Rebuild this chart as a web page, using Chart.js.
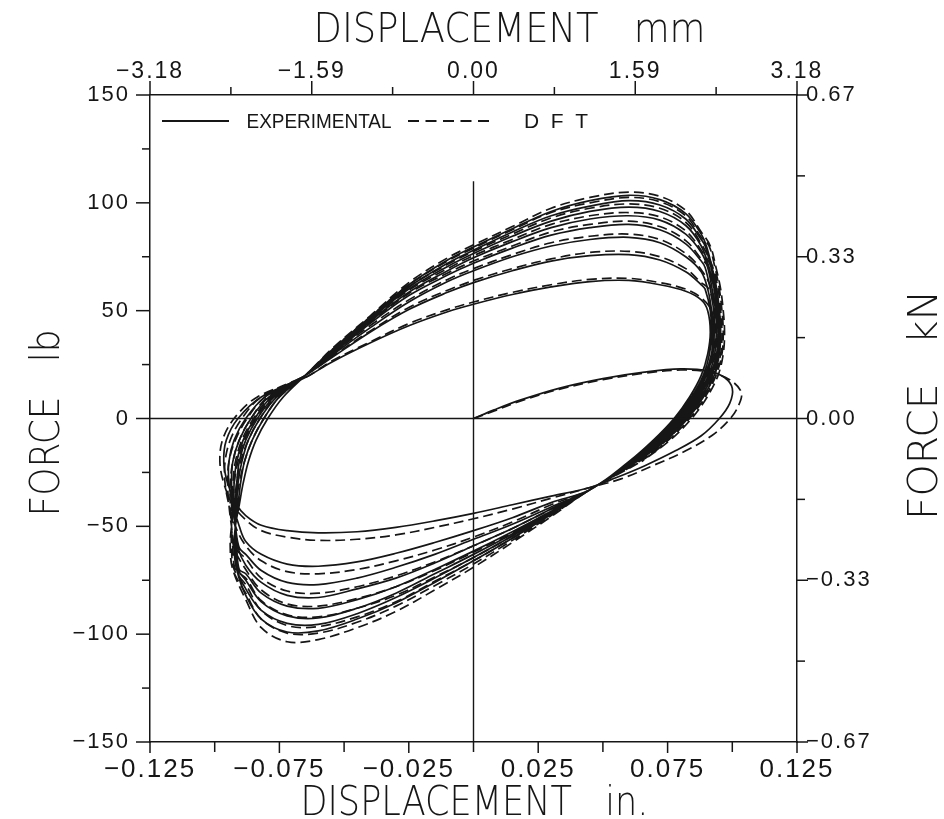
<!DOCTYPE html>
<html>
<head>
<meta charset="utf-8">
<script src="https://cdn.jsdelivr.net/npm/chart.js@4.4.1/dist/chart.umd.min.js"></script>
<style>
  html, body { margin: 0; padding: 0; background: #fff; }
  #wrap { width: 944px; height: 819px; }
</style>
</head>
<body>
<div id="wrap"><canvas id="loops" width="944" height="819"></canvas></div>
<script>
// axis ticks and labels
const inchTicks = [-0.125, -0.1, -0.075, -0.05, -0.025, 0, 0.025, 0.05, 0.075, 0.1, 0.125];
const inchLabels = ['\u22120.125', '', '\u22120.075', '', '\u22120.025', '', '0.025', '', '0.075', '', '0.125'];
const mmTicks = [-3.175, -2.38125, -1.5875, -0.79375, 0, 0.79375, 1.5875, 2.38125, 3.175];
const mmLabels = ['\u22123.18', '', '\u22121.59', '', '0.00', '', '1.59', '', '3.18'];
const lbTicks = [-150, -125, -100, -75, -50, -25, 0, 25, 50, 75, 100, 125, 150];
const lbLabels = ['\u2212150', '', '\u2212100', '', '\u221250', '', '0', '', '50', '', '100', '', '150'];
const kNTicks = [-0.6672, -0.5004, -0.3336, -0.1668, 0, 0.1668, 0.3336, 0.5004, 0.6672];
const kNLabels = ['\u22120.67', '', '\u22120.33', '', '0.00', '', '0.33', '', '0.67'];
const axisTitles = { x: 'DISPLACEMENT   in.', x2: 'DISPLACEMENT   mm', y: 'FORCE   lb', y2: 'FORCE   kN' };
const legendLabels = ['EXPERIMENTAL', 'D  F  T'];

// first loading from rest, [in, lb]
const expInitial = [[0, 0], [0.008, 4], [0.018, 8.5], [0.033, 14], [0.05, 18.5], [0.066, 21.5], [0.08, 23], [0.091, 22],
  [0.097, 19], [0.1, 14], [0.099, 7], [0.095, 0], [0.088, -8], [0.078, -15], [0.066, -22], [0.055, -27.5]];
const dftInitial = [[0, 0], [0.008, 3.5], [0.018, 8], [0.033, 13.5], [0.05, 18], [0.066, 21], [0.08, 22.5], [0.091, 21.5],
  [0.099, 18], [0.1035, 12], [0.102, 5], [0.0985, -1], [0.092, -8], [0.082, -15], [0.07, -21.5], [0.057, -28]];

// upper branches (loading to the right), force at upperX
const upperX = [-0.065, -0.055, -0.04, -0.025, -0.01, 0, 0.015, 0.03, 0.045, 0.06, 0.072, 0.082, 0.088];
const expUpperF = [
  [19, 26, 35, 43, 49.5, 53, 57.5, 61, 63.5, 64, 62, 59, 55],
  [20, 28, 40, 50.5, 58.5, 63, 68.5, 73, 75.5, 76, 73.5, 68, 62],
  [20, 29, 42, 54, 63.5, 68.5, 75, 80, 83, 84, 81.5, 75, 68],
  [20, 29.5, 44, 57, 66.5, 72, 79, 85, 88.5, 90, 87.5, 81, 73],
  [20, 30, 45, 58.5, 68.5, 74.5, 82, 88.5, 92.5, 94, 92, 85.5, 77],
  [20, 30.5, 46, 60, 70.5, 76.5, 84.5, 91.5, 96, 98, 96, 89.5, 80],
  [20, 31, 46.5, 61, 72, 78, 86.5, 94, 98.5, 101, 99, 92.5, 83],
  [20, 31.5, 47, 62, 73.5, 79.5, 88, 96, 101, 103.5, 101.5, 95, 85.5]
];
const dftUpperF = [
  [19, 26.5, 35.5, 44, 50.5, 54, 58.5, 62, 64.5, 65, 63, 60, 56],
  [20, 28.5, 40.5, 51.5, 59.5, 64, 69.5, 74, 77, 77.5, 75, 69.5, 63],
  [20, 29.5, 43, 55, 64.5, 69.5, 76, 81.5, 84.5, 85.5, 83, 76.5, 69],
  [20, 30, 44.5, 58, 67.5, 73, 80, 86.5, 90, 91.5, 89, 82.5, 74],
  [20, 30.5, 45.5, 59.5, 69.5, 75.5, 83, 90, 94, 95.5, 93.5, 87, 78],
  [20, 31, 46.5, 61, 71.5, 77.5, 85.5, 93, 97.5, 99.5, 97.5, 91, 81],
  [20, 31.5, 47, 62, 73, 79, 87.5, 95.5, 100, 102.5, 100.5, 94, 84],
  [20, 32, 47.5, 63, 74.5, 80.5, 89, 97.5, 102.5, 105, 103, 96.5, 86.5]
];

// lower branches (unloading to the left), force at lowerX
const lowerX = [0.045, 0.03, 0.015, 0, -0.015, -0.03, -0.045, -0.06, -0.072, -0.082, -0.088];
const expLowerF = [
  [-32, -36, -40, -44, -47.5, -50.5, -52.5, -53, -52, -49.5, -45],
  [-33, -39, -46, -52, -57.5, -62.5, -66.5, -68.5, -67.5, -63, -57],
  [-33, -41, -49, -56, -63, -69, -74, -77, -76, -70.5, -63],
  [-33, -42, -51, -59, -67, -74, -79, -83, -82, -76, -68],
  [-33, -43, -52.5, -61.5, -70, -78, -84, -88, -87, -81, -72],
  [-33, -43.5, -53.5, -63, -72, -81, -88, -92.5, -91.5, -85, -75],
  [-33, -44, -54.5, -64.5, -74, -83, -90.5, -95.5, -95, -89, -79],
  [-33, -44.5, -55.5, -66, -76, -85.5, -93, -98.5, -99, -93, -82]
];
const dftLowerF = [
  [-32, -37, -42, -46.5, -50.5, -54, -56, -56.5, -55, -52, -47],
  [-33, -40, -48, -55, -61, -66, -70, -72, -71, -66, -59],
  [-33, -42, -51, -59, -66.5, -73, -78, -81, -80, -74, -65],
  [-33, -43, -53, -62, -70.5, -78, -83.5, -87, -86, -79.5, -70],
  [-33, -44, -54.5, -64.5, -73.5, -82, -88, -92, -91, -84.5, -74],
  [-33, -44.5, -55.5, -66, -75.5, -85, -92, -96.5, -96, -89, -77],
  [-33, -45, -56.5, -67.5, -77.5, -87, -94.5, -99.5, -99.5, -93, -81],
  [-33, -45.5, -57.5, -69, -79.5, -89.5, -97, -102.5, -103.5, -97, -84]
];

// left reversal (force rising), displacement at leftLevels
const leftLevels = [-70, -60, -50, -40, -30, -20, -10, 0, 10];
const expLeftX = [
  [null, null, null, -0.0915, -0.095, -0.0965, -0.0955, -0.091, -0.082],
  [null, null, -0.0905, -0.093, -0.0945, -0.0945, -0.0925, -0.088, -0.0805],
  [null, -0.0905, -0.092, -0.093, -0.0935, -0.093, -0.0905, -0.086, -0.079],
  [null, -0.091, -0.092, -0.0925, -0.0925, -0.0915, -0.089, -0.0845, -0.078],
  [-0.0905, -0.0915, -0.092, -0.092, -0.0915, -0.0905, -0.088, -0.0835, -0.077],
  [-0.091, -0.092, -0.092, -0.0915, -0.091, -0.0895, -0.087, -0.0825, -0.076],
  [-0.0915, -0.0925, -0.092, -0.091, -0.09, -0.0885, -0.0855, -0.081, -0.075],
  [-0.0915, -0.0925, -0.092, -0.0905, -0.089, -0.087, -0.084, -0.0795, -0.0735]
];
const dftLeftX = [
  [null, null, null, -0.093, -0.0965, -0.098, -0.097, -0.0925, -0.0835],
  [null, null, -0.092, -0.0945, -0.096, -0.096, -0.094, -0.0895, -0.082],
  [null, -0.092, -0.0935, -0.0945, -0.095, -0.0945, -0.092, -0.0875, -0.0805],
  [null, -0.0925, -0.0935, -0.094, -0.094, -0.093, -0.0905, -0.086, -0.0795],
  [-0.092, -0.093, -0.0935, -0.0935, -0.093, -0.092, -0.0895, -0.085, -0.0785],
  [-0.0925, -0.0935, -0.0935, -0.093, -0.0925, -0.091, -0.0885, -0.084, -0.0775],
  [-0.093, -0.094, -0.0935, -0.0925, -0.0915, -0.09, -0.087, -0.0825, -0.0765],
  [-0.093, -0.094, -0.0935, -0.092, -0.0905, -0.0885, -0.0855, -0.081, -0.075]
];

// right reversal (force falling), displacement at rightLevels
const rightLevels = [80, 70, 60, 50, 40, 30, 20, 10, 0, -10, -20];
const expRightX = [
  [null, null, null, 0.0905, 0.0915, 0.0905, 0.088, 0.0835, 0.0775, 0.0695, 0.06],
  [null, null, 0.0895, 0.0915, 0.092, 0.0912, 0.0888, 0.0843, 0.0782, 0.0702, 0.0605],
  [null, null, 0.0905, 0.092, 0.0925, 0.092, 0.0895, 0.085, 0.079, 0.071, 0.061],
  [null, 0.0895, 0.0915, 0.0928, 0.093, 0.0925, 0.09, 0.0858, 0.0798, 0.0718, 0.0615],
  [null, 0.0905, 0.0922, 0.0935, 0.0938, 0.0932, 0.0908, 0.0865, 0.0805, 0.0725, 0.062],
  [null, 0.091, 0.093, 0.094, 0.0945, 0.094, 0.0915, 0.0872, 0.0812, 0.073, 0.0625],
  [0.0895, 0.0918, 0.0935, 0.0945, 0.095, 0.0945, 0.0922, 0.088, 0.082, 0.0738, 0.063],
  [0.09, 0.0922, 0.094, 0.095, 0.0955, 0.095, 0.093, 0.0888, 0.0828, 0.0745, 0.0635]
];
const dftRightX = [
  [null, null, null, 0.092, 0.093, 0.092, 0.0895, 0.085, 0.079, 0.071, 0.0615],
  [null, null, 0.091, 0.093, 0.0935, 0.0927, 0.0903, 0.0858, 0.0797, 0.0717, 0.062],
  [null, null, 0.092, 0.0935, 0.094, 0.0935, 0.091, 0.0865, 0.0805, 0.0725, 0.0625],
  [null, 0.091, 0.093, 0.0943, 0.0945, 0.094, 0.0915, 0.0873, 0.0813, 0.0733, 0.063],
  [null, 0.092, 0.0937, 0.095, 0.0953, 0.0947, 0.0923, 0.088, 0.082, 0.074, 0.0635],
  [null, 0.0925, 0.0945, 0.0955, 0.096, 0.0955, 0.093, 0.0887, 0.0827, 0.0745, 0.064],
  [0.091, 0.0933, 0.095, 0.096, 0.0965, 0.096, 0.0937, 0.0895, 0.0835, 0.0753, 0.0645],
  [0.0915, 0.0937, 0.0955, 0.0965, 0.097, 0.0965, 0.0945, 0.0903, 0.0843, 0.076, 0.065]
];

// reference lines through the origin
const zeroVertical = [[0, -150], [0, 110]];
const zeroHorizontal = [[-0.125, 0], [0.125, 0]];

const ink = '#161616';
const plainFont = "'Liberation Sans', Arial, sans-serif";
const thinFont = "'DejaVu Sans ExtraLight', 'DejaVu Sans', sans-serif";

function buildPath(initial, upperF, lowerF, leftX, rightX) {
  const pts = initial.map(p => ({ x: p[0], y: p[1] }));
  for (let c = 0; c < upperF.length; c++) {
    lowerX.forEach((x, i) => pts.push({ x: x, y: lowerF[c][i] }));
    leftLevels.forEach((f, i) => { if (leftX[c][i] !== null) pts.push({ x: leftX[c][i], y: f }); });
    upperX.forEach((x, i) => pts.push({ x: x, y: upperF[c][i] }));
    rightLevels.forEach((f, i) => { if (rightX[c][i] !== null) pts.push({ x: rightX[c][i], y: f }); });
  }
  return pts;
}
const toPts = arr => arr.map(p => ({ x: p[0], y: p[1] }));

function fixedTicks(values) {
  return scale => { scale.ticks = values.map(v => ({ value: v })); };
}
function labelsFrom(labels) {
  return (value, index) => labels[index] || '';
}

// tick mark lengths [labelled, unlabelled]
const tickLen = { x: [11, 10], x2: [14, 8], y: [14, 8], y2: [11, 8] };

// plotter-style lettering: spaced tick labels
const spacing = {
  id: 'spacing',
  beforeDraw(chart) { chart.ctx.letterSpacing = '2px'; }
};

const tickMarks = {
  id: 'tickMarks',
  afterDraw(chart) {
    const ctx = chart.ctx;
    ctx.save();
    ctx.strokeStyle = ink;
    ctx.lineWidth = 1.5;
    Object.values(chart.scales).forEach(scale => {
      const len = tickLen[scale.id];
      scale.ticks.forEach(t => {
        const L = t.label ? len[0] : len[1];
        const p = scale.getPixelForValue(t.value);
        ctx.beginPath();
        if (scale.position === 'left') { ctx.moveTo(scale.right, p); ctx.lineTo(scale.right - L, p); }
        else if (scale.position === 'right') { ctx.moveTo(scale.left, p); ctx.lineTo(scale.left + L, p); }
        else if (scale.position === 'top') { ctx.moveTo(p, scale.bottom); ctx.lineTo(p, scale.bottom - L); }
        else { ctx.moveTo(p, scale.top); ctx.lineTo(p, scale.top + L); }
        ctx.stroke();
      });
    });
    ctx.restore();
  }
};

// text squeezed to a given width, like the narrow plotter lettering
function fittedText(ctx, text, x, y, width, font, rotate) {
  ctx.save();
  ctx.font = font;
  ctx.letterSpacing = '0px';
  const w = ctx.measureText(text).width;
  ctx.translate(x, y);
  if (rotate) ctx.rotate(-Math.PI / 2);
  ctx.scale(width / w, 1);
  ctx.textAlign = 'center';
  ctx.textBaseline = 'alphabetic';
  ctx.fillStyle = ink;
  ctx.fillText(text, 0, 0);
  ctx.restore();
}

const titlesAndLegend = {
  id: 'titlesAndLegend',
  afterDraw(chart) {
    const ctx = chart.ctx;
    const a = chart.chartArea;
    const big = '200 40px ' + thinFont;
    fittedText(ctx, axisTitles.x2, (a.left + a.right) / 2 + 36, 42, 392, big, false);
    fittedText(ctx, axisTitles.x, (a.left + a.right) / 2 + 1, 815, 348, big, false);
    fittedText(ctx, axisTitles.y, 59, 423, 187, big, true);
    fittedText(ctx, axisTitles.y2, 937, 405, 230, big, true);

    const y = a.top + 26;
    ctx.save();
    ctx.strokeStyle = ink;
    ctx.lineWidth = 1.8;
    ctx.beginPath(); ctx.moveTo(a.left + 12, y); ctx.lineTo(a.left + 79, y); ctx.stroke();
    ctx.setLineDash([11, 6.5]);
    ctx.beginPath(); ctx.moveTo(a.left + 258, y); ctx.lineTo(a.left + 342, y); ctx.stroke();
    ctx.restore();
    const small = '21px ' + plainFont;
    fittedText(ctx, legendLabels[0], a.left + 169, y + 7, 145, small, false);
    fittedText(ctx, legendLabels[1], a.left + 406, y + 7, 64, small, false);
  }
};

function axisCommon(ticks, labels, font, padding) {
  return {
    afterBuildTicks: fixedTicks(ticks),
    ticks: { callback: labelsFrom(labels), font: font, color: ink, padding: padding, autoSkip: false, maxRotation: 0 },
    grid: { drawOnChartArea: false, drawTicks: false },
    border: { display: true, color: ink, width: 1.5 },
    title: { display: false }
  };
}

const xAxis = axisCommon(inchTicks, inchLabels, { family: plainFont, size: 26 }, 12);
xAxis.type = 'linear'; xAxis.position = 'bottom'; xAxis.min = -0.125; xAxis.max = 0.125;
xAxis.afterFit = s => { s.height = 77; };

const x2Axis = axisCommon(mmTicks, mmLabels, { family: plainFont, size: 23 }, 10);
x2Axis.type = 'linear'; x2Axis.position = 'top'; x2Axis.min = -3.175; x2Axis.max = 3.175;
x2Axis.afterFit = s => { s.height = 95; };

const yAxis = axisCommon(lbTicks, lbLabels, { family: plainFont, size: 22 }, 20);
yAxis.type = 'linear'; yAxis.position = 'left'; yAxis.min = -150; yAxis.max = 150;
yAxis.afterFit = s => { s.width = 150; };

const y2Axis = axisCommon(kNTicks, kNLabels, { family: plainFont, size: 22 }, 9);
y2Axis.type = 'linear'; y2Axis.position = 'right'; y2Axis.min = -0.6672; y2Axis.max = 0.6672;
y2Axis.afterFit = s => { s.width = 147; };

const lineStyle = { showLine: true, pointRadius: 0, borderColor: ink, fill: false };

new Chart(document.getElementById('loops').getContext('2d'), {
  type: 'scatter',
  data: {
    datasets: [
      Object.assign({ label: 'zero x', data: toPts(zeroVertical), borderWidth: 1.4, tension: 0 }, lineStyle),
      Object.assign({ label: 'zero y', data: toPts(zeroHorizontal), borderWidth: 1.4, tension: 0 }, lineStyle),
      Object.assign({ label: legendLabels[0], data: buildPath(expInitial, expUpperF, expLowerF, expLeftX, expRightX),
        borderWidth: 1.7, tension: 0.35 }, lineStyle),
      Object.assign({ label: legendLabels[1], data: buildPath(dftInitial, dftUpperF, dftLowerF, dftLeftX, dftRightX),
        borderWidth: 1.7, tension: 0.35, borderDash: [10, 5] }, lineStyle)
    ]
  },
  options: {
    responsive: false,
    devicePixelRatio: 1,
    animation: false,
    layout: { padding: 0 },
    plugins: { legend: { display: false }, tooltip: { enabled: false } },
    scales: { x: xAxis, x2: x2Axis, y: yAxis, y2: y2Axis }
  },
  plugins: [spacing, tickMarks, titlesAndLegend]
});
</script>
</body>
</html>
